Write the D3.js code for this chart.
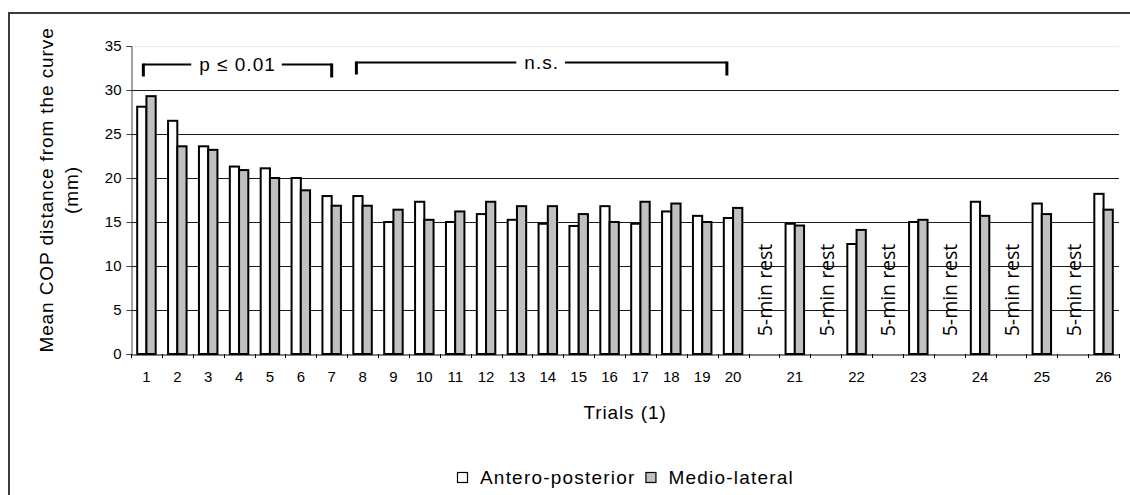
<!DOCTYPE html>
<html>
<head>
<meta charset="utf-8">
<script src="https://cdn.jsdelivr.net/npm/d3@7"></script>
<style>
  html, body { margin: 0; padding: 0; background: #fff; }
  svg { display: block; }
  text { font-family: "Liberation Sans", Arial, sans-serif; fill: #000; }
</style>
</head>
<body>
<svg id="chart" width="1130" height="495"></svg>
<script>
// ---- data ----
const trials = ["1","2","3","4","5","6","7","8","9","10","11","12","13","14","15","16","17","18","19","20","21","22","23","24","25","26"];
const categories = ["1","2","3","4","5","6","7","8","9","10","11","12","13","14","15","16","17","18","19","20",
  "rest1","21","rest2","22","rest3","23","rest4","24","rest5","25","rest6","26"];
const restSlots = ["rest1","rest2","rest3","rest4","rest5","rest6"];
const restLabel = "5-min rest";
const seriesNames = ["Antero-posterior", "Medio-lateral"];
const anteroPosterior = [28.1, 26.5, 23.6, 21.3, 21.1, 20.0, 17.95, 17.95, 15.0, 17.3, 15.0, 15.9, 15.25, 14.8, 14.55, 16.8, 14.8, 16.2, 15.7, 15.45, 14.8, 12.5, 15.0, 17.3, 17.1, 18.2];
const medioLateral = [29.3, 23.6, 23.2, 20.9, 20.0, 18.6, 16.85, 16.85, 16.4, 15.25, 16.2, 17.3, 16.8, 16.8, 15.9, 15.0, 17.3, 17.1, 15.0, 16.6, 14.6, 14.1, 15.25, 15.7, 15.9, 16.4];
const yTicks = [0, 5, 10, 15, 20, 25, 30, 35];
const yTitle = ["Mean COP distance from the curve", "(mm)"];
const xTitle = "Trials (1)";
const brackets = [
  { label: "p \u2264 0.01", from: "1", to: "7" },
  { label: "n.s.", from: "8", to: "20" }
];

// ---- layout ----
const svg = d3.select("#chart");
const plot = { left: 131, right: 1119, top: 46, bottom: 354 };

// chart frame
svg.append("rect").attr("x", 9).attr("y", 13).attr("width", 1200).attr("height", 600)
  .attr("fill", "none").attr("stroke", "#3c3c3c").attr("stroke-width", 2);

const x = d3.scaleBand().domain(categories).range([plot.left, plot.right]).paddingInner(0).paddingOuter(0);
const xs = d3.scaleBand().domain(seriesNames).range([0, x.bandwidth()]).paddingInner(0).paddingOuter(0.67);
const y = d3.scaleLinear().domain([0, 35]).range([plot.bottom, plot.top]);

// gridlines
svg.append("g").selectAll("line").data(yTicks.filter(d => d > 0)).join("line")
  .attr("x1", plot.left).attr("x2", plot.right)
  .attr("y1", d => Math.round(y(d)) + 0.5).attr("y2", d => Math.round(y(d)) + 0.5)
  .attr("stroke", d => d === 35 ? "#ececec" : "#1a1a1a").attr("stroke-width", 1);

// y axis
const yAxis = d3.axisLeft(y).tickValues(yTicks).tickSize(5).tickPadding(5);
const gy = svg.append("g").attr("transform", `translate(${plot.left + 0.5},0)`).call(yAxis);
gy.select(".domain").attr("stroke", "#444");
gy.selectAll(".tick line").attr("stroke", "#444");
gy.selectAll(".tick text").style("font-size", "15px").attr("fill", "#000");

// bars
const rows = trials.map((t, i) => ({ trial: t, values: [anteroPosterior[i], medioLateral[i]] }));
const groups = svg.append("g").selectAll("g").data(rows).join("g")
  .attr("transform", d => `translate(${x(d.trial)},0)`);
groups.selectAll("rect").data(d => d.values.map((v, j) => ({ v, s: seriesNames[j] }))).join("rect")
  .attr("x", d => xs(d.s))
  .attr("width", xs.bandwidth())
  .attr("y", d => y(d.v))
  .attr("height", d => y(0) - y(d.v))
  .attr("fill", d => d.s === seriesNames[0] ? "#ffffff" : "#c0c0c0")
  .attr("stroke", "#000").attr("stroke-width", 2);

// x axis
const xAxis = d3.axisBottom(x).tickSize(0).tickFormat(d => restSlots.includes(d) ? "" : d).tickPadding(17);
const gx = svg.append("g").attr("transform", `translate(0,${plot.bottom + 0.5})`).call(xAxis);
gx.select(".domain").attr("stroke", "#000");
gx.selectAll(".tick text").style("font-size", "15px").attr("fill", "#000");
// boundary ticks
svg.append("g").selectAll("line").data(categories.concat(["__end"])).join("line")
  .attr("x1", d => Math.round(d === "__end" ? plot.right : x(d)) + 0.5)
  .attr("x2", d => Math.round(d === "__end" ? plot.right : x(d)) + 0.5)
  .attr("y1", plot.bottom).attr("y2", plot.bottom + 4)
  .attr("stroke", "#000").attr("stroke-width", 1);

// rest labels
svg.append("g").selectAll("text").data(restSlots).join("text")
  .attr("transform", d => `translate(${x(d) + x.bandwidth() / 2 + 1},290) rotate(-90)`)
  .attr("text-anchor", "middle").attr("dy", "0.36em")
  .style("font-family", "'Open Sans', 'DejaVu Sans', sans-serif")
  .style("font-size", "19.5px").attr("fill", "#444")
  .text(restLabel);

// y title
const yt = svg.append("text").attr("transform", "translate(53,190) rotate(-90)")
  .attr("text-anchor", "middle").style("font-size", "19px").style("letter-spacing", "0.9px");
yt.append("tspan").attr("x", 0).attr("y", 0).text(yTitle[0]);
yt.append("tspan").attr("x", 0).attr("y", 25).text(yTitle[1]);

// x title
svg.append("text").attr("x", 625).attr("y", 419).attr("text-anchor", "middle")
  .style("font-size", "19px").style("letter-spacing", "0.9px").text(xTitle);

// brackets
brackets.forEach((b, i) => {
  const x1 = x(b.from) + x.bandwidth() * (i === 0 ? 0.4 : 0.3);
  const x2 = i === 0 ? x(b.to) + x.bandwidth() / 2 : x(b.to) + x.bandwidth() * 0.3;
  const ly = i === 0 ? 64.5 : 62.5;
  const g = svg.append("g");
  const t = g.append("text").attr("x", (x1 + x2) / 2).attr("y", ly + 6).attr("text-anchor", "middle")
    .style("font-size", "19px").style("letter-spacing", "1px").text(b.label);
  const bb = t.node().getBBox();
  g.append("line").attr("x1", x1).attr("x2", bb.x - 8).attr("y1", ly).attr("y2", ly).attr("stroke", "#000").attr("stroke-width", 2);
  g.append("line").attr("x1", bb.x + bb.width + 6).attr("x2", x2).attr("y1", ly).attr("y2", ly).attr("stroke", "#000").attr("stroke-width", 2);
  g.append("line").attr("x1", x1).attr("x2", x1).attr("y1", ly - 1).attr("y2", ly + 12).attr("stroke", "#000").attr("stroke-width", 3);
  g.append("line").attr("x1", x2).attr("x2", x2).attr("y1", ly - 1).attr("y2", ly + 13).attr("stroke", "#000").attr("stroke-width", 3);
});

// legend
const legend = svg.append("g").attr("transform", "translate(457,471)");
let lx = 0;
seriesNames.forEach((name, j) => {
  legend.append("rect").attr("x", lx + 0.5).attr("y", 1.5).attr("width", 10).attr("height", 10)
    .attr("fill", j === 0 ? "#fff" : "#c0c0c0").attr("stroke", "#000").attr("stroke-width", 1.2);
  const t = legend.append("text").attr("x", lx + 23).attr("y", 12.5)
    .style("font-size", "19px").style("letter-spacing", "1.2px").text(name);
  lx += 23 + t.node().getComputedTextLength() + 10;
});
</script>
</body>
</html>
